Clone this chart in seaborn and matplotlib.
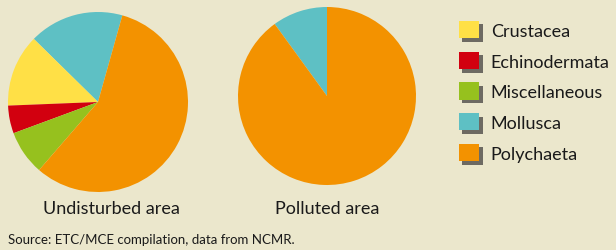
import matplotlib
matplotlib.use("Agg")
import matplotlib.pyplot as plt
import matplotlib.patches as mpatches
import matplotlib.patheffects as pe
import seaborn as sns

categories = ["Crustacea", "Echinodermata", "Miscellaneous", "Mollusca", "Polychaeta"]
undisturbed = [13, 5, 8, 17, 57]
polluted = [0, 0, 0, 10, 90]
pie_labels = ["Undisturbed area", "Polluted area"]
source = "Source: ETC/MCE compilation, data from NCMR."

colors = ["#FFE046", "#D2000F", "#96C11E", "#5EC0C4", "#F39200"]
bg = "#EBE7CC"

sns.set_theme(style="white")
plt.rcParams["font.family"] = ["Lato", "DejaVu Sans"]
palette = sns.color_palette(colors)

W, H = 616, 251
fig = plt.figure(figsize=(W / 100, H / 100), dpi=100, facecolor=bg)

def pie_axes(cx, cy, r):
    return fig.add_axes([(cx - r) / W, (H - cy - r) / H, 2 * r / W, 2 * r / H])

# drawing order counterclockwise: Mollusca, Crustacea, Echinodermata, Miscellaneous, Polychaeta
order = [3, 0, 1, 2, 4]

ax1 = pie_axes(98, 103, 90)
ax1.pie([undisturbed[i] for i in order], colors=[palette[i] for i in order],
        startangle=74.3, counterclock=True, radius=1,
        wedgeprops=dict(linewidth=0))
ax1.set_xlim(-1, 1); ax1.set_ylim(-1, 1); ax1.axis("off")

ax2 = pie_axes(327, 97, 89)
ax2.pie([polluted[i] for i in order], colors=[palette[i] for i in order],
        startangle=90, counterclock=True, radius=1,
        wedgeprops=dict(linewidth=0))
ax2.set_xlim(-1, 1); ax2.set_ylim(-1, 1); ax2.axis("off")

fs = 13
fig.text(111 / W, 1 - 209 / H, pie_labels[0], ha="center", va="center", fontsize=fs, color="#1a1a1a")
fig.text(327 / W, 1 - 209 / H, pie_labels[1], ha="center", va="center", fontsize=fs, color="#1a1a1a")
fig.text(8 / W, 1 - 240 / H, source, ha="left", va="center", fontsize=9.5, color="#1a1a1a")

shadow = [pe.SimplePatchShadow(offset=(2.5, -2.5), shadow_rgbFace="#6d6a62", alpha=1.0), pe.Normal()]
handles = [mpatches.Patch(facecolor=palette[i], edgecolor="none", label=categories[i],
                          path_effects=shadow) for i in range(len(categories))]
leg = fig.legend(handles=handles, loc="upper left", bbox_to_anchor=(459 / W, 1 - 22 / H),
                 frameon=False, fontsize=fs, handlelength=1.11, handleheight=1.11,
                 handletextpad=0.65, labelspacing=0.71, borderpad=0, borderaxespad=0)
for t in leg.get_texts():
    t.set_color("#1a1a1a")

fig.savefig("out.png", dpi=100, facecolor=bg)
